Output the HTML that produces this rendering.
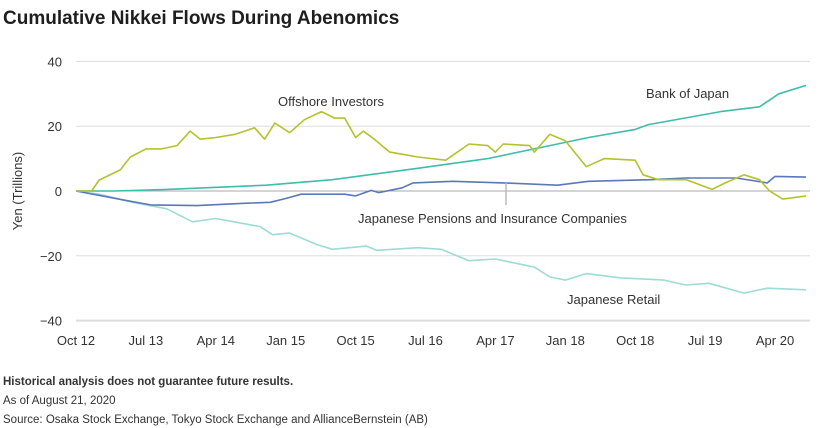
<!DOCTYPE html>
<html><head><meta charset="utf-8"><style>
body{margin:0;background:#fff;width:840px;height:428px;overflow:hidden;font-family:"Liberation Sans",sans-serif}
svg{position:absolute;left:0;top:0}
</style></head><body>
<svg width="840" height="428">
<text x="3" y="24" font-size="19" font-weight="bold" fill="#1e1e1e">Cumulative Nikkei Flows During Abenomics</text>
<g id="grid"></g>
<g id="yticks"></g>
<g id="xticks"></g>
<text transform="translate(22,191) rotate(-90)" text-anchor="middle" font-size="13" fill="#333">Yen (Trillions)</text>
<g id="series"></g>
<line x1="506" y1="183" x2="506" y2="205" stroke="#bbb" stroke-width="1.5"/>
<text x="278" y="106" font-size="13" fill="#333">Offshore Investors</text>
<text x="646" y="98" font-size="13" fill="#333">Bank of Japan</text>
<text x="358" y="223" font-size="13" fill="#333">Japanese Pensions and Insurance Companies</text>
<text x="567" y="304" font-size="13" fill="#333">Japanese Retail</text>
<text x="3" y="385" font-size="11.5" font-weight="bold" fill="#333">Historical analysis does not guarantee future results.</text>
<text x="3" y="404" font-size="11.5" fill="#333">As of August 21, 2020</text>
<text x="3" y="423" font-size="11.5" fill="#333">Source: Osaka Stock Exchange, Tokyo Stock Exchange and AllianceBernstein (AB)</text>
</svg>
<script>
const yTicks=[40,20,0,-20,-40];
const xTickLabels=["Oct 12","Jul 13","Apr 14","Jan 15","Oct 15","Jul 16","Apr 17","Jan 18","Oct 18","Jul 19","Apr 20"];
const xTickMonths=[0,9,18,27,36,45,54,63,72,81,90];
const offM=[0,2,3,5.7,7,9,11,13,14.7,16,18,20.5,23,24.3,25.6,27.5,29.4,31.6,33.3,34.6,36,37,38.4,40.4,41.6,44,47.6,50.6,53,54,55,58.4,59,61,63,65.7,68,72,73,75,78.6,81.9,83.6,86,88,89.3,91,94];
const offV=[0,0,3.4,6.5,10.5,13,13,14,18.5,16,16.5,17.5,19.5,16,21,18,22,24.5,22.5,22.5,16.5,18.5,16,12,11.5,10.5,9.5,14.5,14,12,14.5,14,12,17.5,15.5,7.5,10,9.5,5,3.5,3.5,0.5,2.5,5,3.5,0,-2.5,-1.5];
const bojM=[0,5,11.7,24.5,33,44,53,61,66,72,73.7,83,88,90.5,94];
const bojV=[0,0,0.5,1.8,3.5,7,10,14,16.5,19,20.5,24.5,26,30,32.6];
const penM=[0,6.6,9.6,15.6,21.6,25,27,29,34.6,36,38,39,42,43.4,48.5,55,62,66,74,78.5,85,89,90,94];
const penV=[0,-3,-4.3,-4.5,-3.8,-3.5,-2.3,-1,-1,-1.5,0.2,-0.5,1,2.5,3,2.5,1.8,3,3.5,4,4,2.5,4.5,4.3];
const retM=[0,3,7.3,11.7,15,18,20.3,23.7,25.3,27.5,31,33,37.4,38.7,44,47,50.6,54,59,61,63,65.7,70,75.7,78.5,81.5,86,89,94];
const retV=[0,-1,-3.5,-5.5,-9.5,-8.5,-9.5,-11,-13.5,-13,-16.5,-18,-17,-18.3,-17.5,-18,-21.5,-21,-23.5,-26.5,-27.5,-25.5,-26.8,-27.5,-29,-28.5,-31.5,-30,-30.5];
const X0=76,X1=810,MMAX=94.5;
const xs=m=>X0+(X1-X0)*m/MMAX;
const ys=v=>191-v*3.24;
const NS="http://www.w3.org/2000/svg";
function mk(t,a,p){const e=document.createElementNS(NS,t);for(const k in a)e.setAttribute(k,a[k]);p.appendChild(e);return e;}
const grid=document.getElementById('grid'),yt=document.getElementById('yticks'),xt=document.getElementById('xticks'),ser=document.getElementById('series');
yTicks.forEach(v=>{
 const l=mk('line',{x1:X0,x2:X1,y1:ys(v),y2:ys(v),stroke:v===0?'#aaa':'#ddd','stroke-width':v===-40?2:1},grid);
 
 
 const t=mk('text',{x:62,y:ys(v)+5,'text-anchor':'end','font-size':13,fill:'#333'},yt);
 t.textContent=v<0?'\u2212'+(-v):String(v);
 
 
});
xTickLabels.forEach((s,i)=>{
 const t=mk('text',{x:xs(xTickMonths[i]),y:345,'text-anchor':'middle','font-size':13,fill:'#333'},xt);
 t.textContent=s;
 
 
});
function line(M,V,c,name){
 const d=M.map((m,i)=>(i?'L':'M')+xs(m).toFixed(1)+','+ys(V[i]).toFixed(1)).join(' ');
 const p=mk('path',{d:d,fill:'none',stroke:c,'stroke-width':1.6,'stroke-linejoin':'round'},ser);
 
 
}
line(retM,retV,'#9ddbd6','series-japanese-retail');
line(penM,penV,'#5b78b8','series-japanese-pensions');
line(bojM,bojV,'#3fbcaa','series-bank-of-japan');
line(offM,offV,'#b4c32c','series-offshore-investors');
</script>
</body></html>
